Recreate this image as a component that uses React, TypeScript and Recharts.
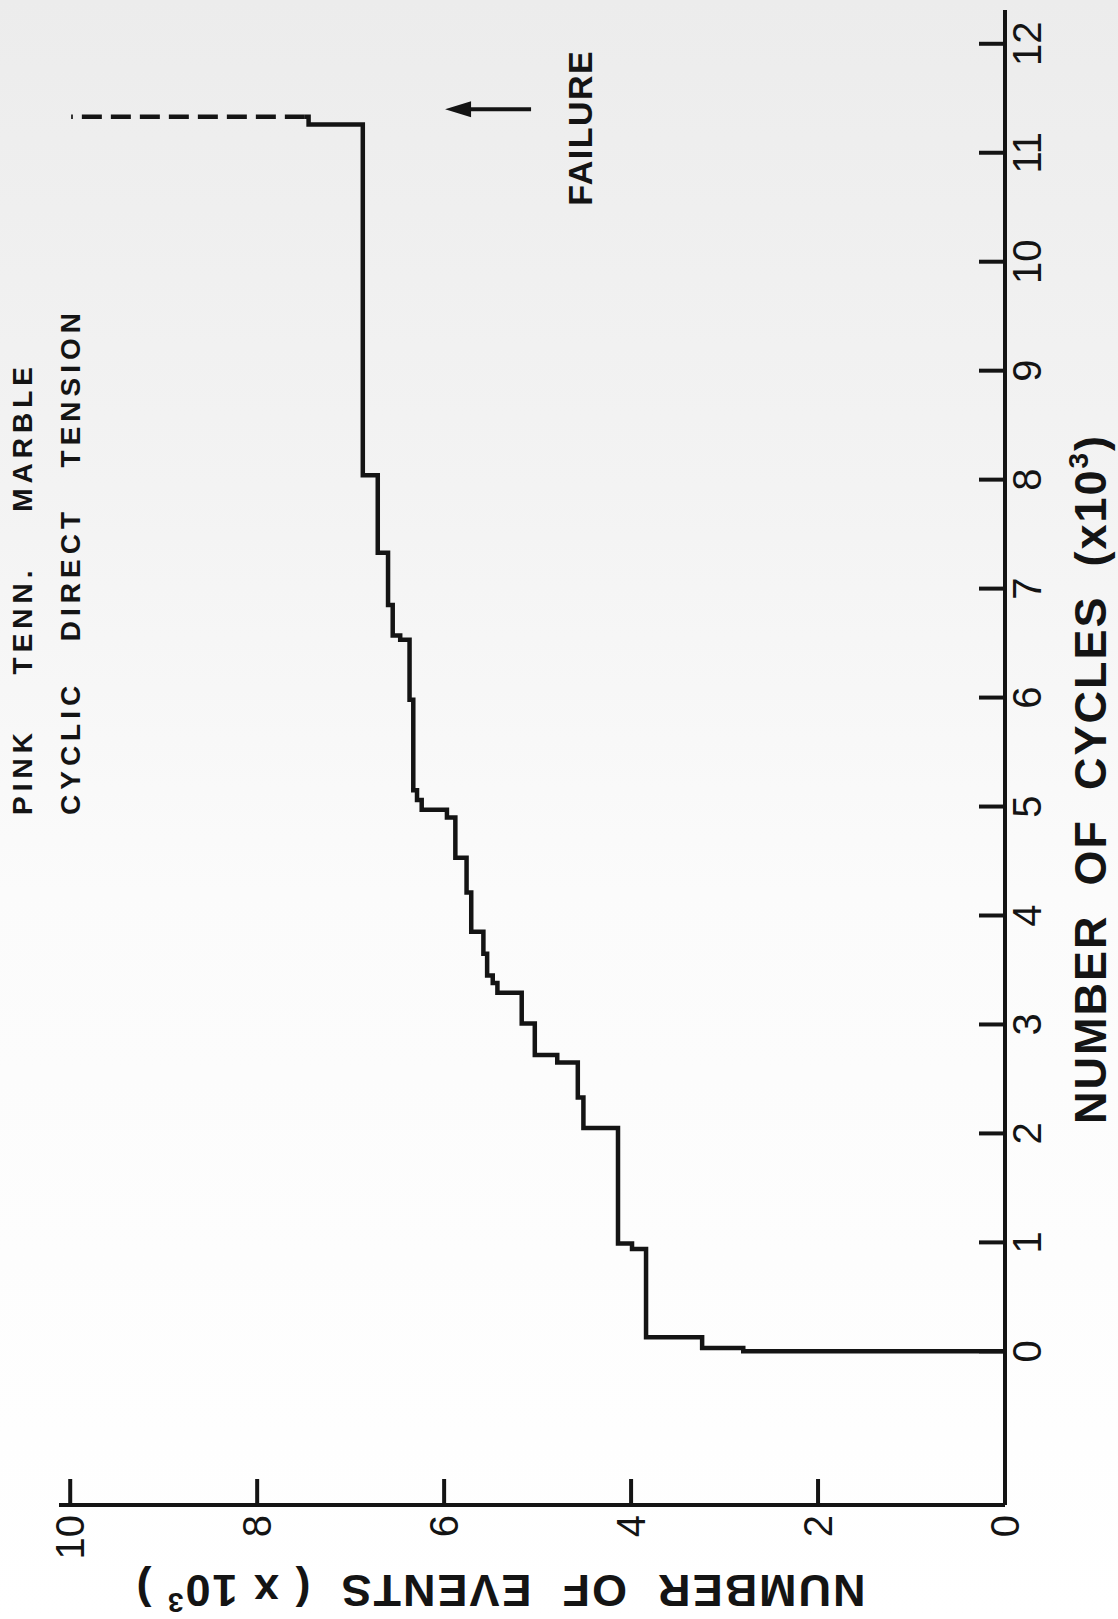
import React from 'react';
import { LineChart, Line, XAxis, YAxis, ReferenceLine, ReferenceDot } from 'recharts';

// cycles (x10^3) at which the cumulative event count steps up
const cycles = [
  0, 0, 0.03, 0.13, 0.94, 0.99, 2.05, 2.33, 2.65, 2.72, 3.01, 3.29, 3.38, 3.45, 3.65,
  3.85, 4.21, 4.53, 4.9, 4.97, 5.06, 5.15, 5.98, 6.53, 6.57, 6.85, 7.33, 8.04, 11.26, 11.33,
];
// number of events (x10^3) after each step
const events = [
  0, 2.8, 3.24, 3.84, 3.99, 4.14, 4.51, 4.57, 4.79, 5.03, 5.17, 5.43, 5.48, 5.54, 5.58,
  5.71, 5.76, 5.88, 5.97, 6.24, 6.29, 6.33, 6.37, 6.47, 6.55, 6.6, 6.71, 6.87, 7.45, 7.49,
];
// dashed jump at failure
const failureCycles = [11.33, 11.33];
const failureEvents = [7.49, 9.99];

const cycleTicks = [0, 1, 2, 3, 4, 5, 6, 7, 8, 9, 10, 11, 12];
const eventTicks = [0, 2, 4, 6, 8, 10];

// failure arrow / label position (cycles, events)
const arrowCycle = 11.4;
const arrowFrom = 5.07;
const arrowTo = 5.99;
const failureLabel = { cycle: 11.23, events: 4.55 };

const FONT = '"Liberation Sans", Arial, sans-serif';
const INK = '#141414';

const stepData = cycles.map((c, i) => ({ c, e: events[i] }));
const failureData = failureCycles.map((c, i) => ({ c, e: failureEvents[i] }));

const ArrowHead = (props: any) => {
  const { cx, cy } = props;
  return <path d={`M${cx},${cy} L${cx - 8},${cy + 26} L${cx + 8},${cy + 26} Z`} fill={INK} />;
};

const FailureText = (props: any) => (
  <text
    x={props.cx}
    y={props.cy}
    textAnchor="middle"
    dominantBaseline="central"
    fontFamily={FONT}
    fontWeight="bold"
    fontSize={34}
    letterSpacing={1.5}
    fill={INK}
  >
    FAILURE
  </text>
);

const titleLine: React.CSSProperties = {
  position: 'absolute',
  left: 804,
  display: 'flex',
  justifyContent: 'space-between',
  fontFamily: FONT,
  fontWeight: 'bold',
  fontSize: 28,
  letterSpacing: 5,
  lineHeight: '30px',
  color: INK,
};

const axisTitle: React.CSSProperties = {
  position: 'absolute',
  fontFamily: FONT,
  fontWeight: 'bold',
  fontSize: 45,
  letterSpacing: 2,
  lineHeight: '40px',
  height: 40,
  width: 800,
  textAlign: 'center',
  whiteSpace: 'pre',
  color: INK,
};

const sup: React.CSSProperties = { fontSize: 28, position: 'relative', top: -18, lineHeight: 0 };

const App: React.FC = () => {
  return (
    <div
      style={{
        position: 'absolute',
        left: 0,
        top: 0,
        width: 1118,
        height: 1619,
        overflow: 'hidden',
        background: 'linear-gradient(180deg, #ececec 0%, #f3f3f3 30%, #fbfbfb 55%, #ffffff 100%)',
      }}
    >
      <style>{'body { margin: 0; overflow: hidden; }'}</style>
      {/* chart drawn landscape, then turned a quarter turn counter-clockwise */}
      <div
        style={{
          position: 'absolute',
          left: 0,
          top: 0,
          width: 1619,
          height: 1118,
          transformOrigin: '0 0',
          transform: 'translate(0px, 1619px) rotate(-90deg)',
        }}
      >
        <LineChart
          width={1619}
          height={1118}
          margin={{ top: 59, right: 10, left: 54, bottom: 53 }}
        >
          <XAxis
            dataKey="c"
            type="number"
            domain={[-1.41, 12.31]}
            ticks={cycleTicks}
            allowDataOverflow
            height={60}
            axisLine={{ stroke: INK, strokeWidth: 4 }}
            tickLine={{ stroke: INK, strokeWidth: 4 }}
            tickSize={-26}
            tickMargin={34}
            tick={{ fontSize: 40, fill: INK, fontFamily: FONT }}
            interval={0}
          />
          <YAxis
            dataKey="e"
            type="number"
            domain={[0, 10.12]}
            ticks={eventTicks}
            allowDataOverflow
            width={60}
            axisLine={{ stroke: INK, strokeWidth: 4 }}
            tickLine={{ stroke: INK, strokeWidth: 4 }}
            tickSize={-26}
            tickMargin={36}
            tick={{ fontSize: 40, fill: INK, fontFamily: FONT }}
            interval={0}
          />
          <Line
            data={stepData}
            dataKey="e"
            type="stepAfter"
            stroke={INK}
            strokeWidth={4.5}
            dot={false}
            isAnimationActive={false}
          />
          <Line
            data={failureData}
            dataKey="e"
            type="linear"
            stroke={INK}
            strokeWidth={4.5}
            strokeDasharray="20 9"
            dot={false}
            isAnimationActive={false}
          />
          <ReferenceLine
            segment={[
              { x: arrowCycle, y: arrowFrom },
              { x: arrowCycle, y: arrowTo - 0.2 },
            ]}
            stroke={INK}
            strokeWidth={4}
          />
          <ReferenceDot x={arrowCycle} y={arrowTo} r={0} shape={ArrowHead} />
          <ReferenceDot x={failureLabel.cycle} y={failureLabel.events} r={0} shape={FailureText} />
        </LineChart>

        <div style={{ ...titleLine, top: 8, width: 453 }}>
          <span>PINK</span>
          <span>TENN.</span>
          <span>MARBLE</span>
        </div>
        <div style={{ ...titleLine, top: 56, width: 507 }}>
          <span>CYCLIC</span>
          <span>DIRECT</span>
          <span>TENSION</span>
        </div>

        <div style={{ ...axisTitle, left: 440, top: 1071 }}>
          {'NUMBER  OF  CYCLES  (x10'}
          <span style={sup}>3</span>
          {')'}
        </div>
        <div style={{ ...axisTitle, left: 29 - 400, top: 480, transform: 'rotate(-90deg)' }}>
          {'NUMBER  OF  EVENTS  ( x 10'}
          <span style={sup}>3</span>
          {' )'}
        </div>
      </div>
    </div>
  );
};

export default App;
